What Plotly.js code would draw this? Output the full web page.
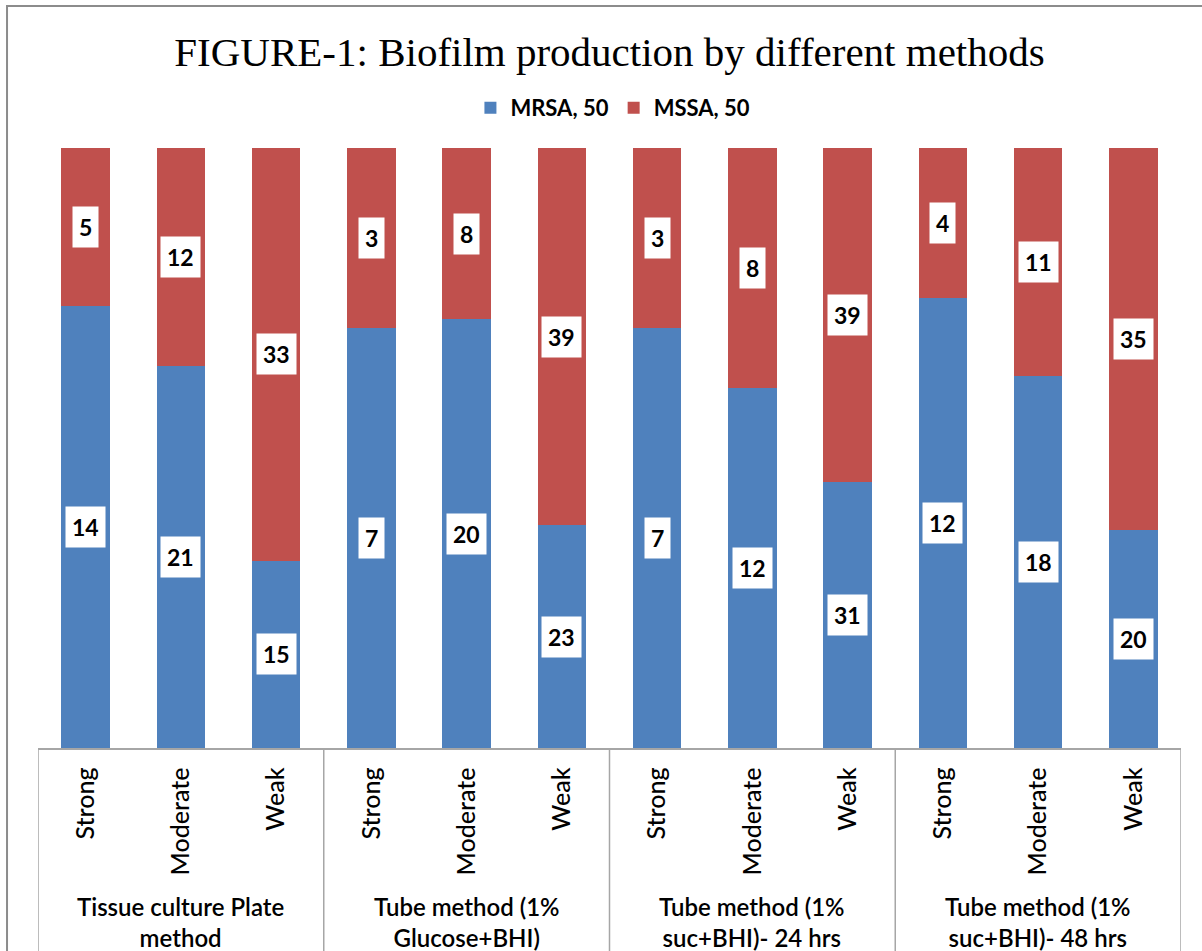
<!DOCTYPE html>
<html>
<head>
<meta charset="utf-8">
<script src="https://cdn.plot.ly/plotly-3.0.1.min.js"></script>
<style>html,body{margin:0;padding:0;background:#fff;}</style>
</head>
<body>
<div id="chart" style="width:1202px;height:951px;"></div>
<script>
// ---- data ----
const methods = [
  "Tissue culture Plate<br>method",
  "Tube method (1%<br>Glucose+BHI)",
  "Tube method (1%<br>suc+BHI)- 24 hrs",
  "Tube method (1%<br>suc+BHI)- 48 hrs"
];
const grades = ["Strong", "Moderate", "Weak"];
const mrsa = [14, 21, 15, 7, 20, 23, 7, 12, 31, 12, 18, 20];
const mssa = [5, 12, 33, 3, 8, 39, 3, 8, 39, 4, 11, 35];
const seriesNames = ["MRSA, 50", "MSSA, 50"];
const colors = ["#4F81BD", "#C0504D"];

// ---- derived ----
const xs = [], tickText = [];
methods.forEach((m, gi) => grades.forEach((g, si) => { xs.push(gi * grades.length + si); tickText.push(g); }));

const traces = [mrsa, mssa].map((vals, k) => ({
  type: "bar", x: xs, y: vals, name: seriesNames[k],
  marker: {color: colors[k]}, width: 0.51, hoverinfo: "x+y+name"
}));

const annotations = [];
xs.forEach((x, i) => {
  const tot = mrsa[i] + mssa[i];
  const p1 = mrsa[i] / tot * 100, p2 = mssa[i] / tot * 100;
  [[mrsa[i], p1 / 2], [mssa[i], p1 + p2 / 2]].forEach(([v, y]) => {
    annotations.push({
      x: x, y: y, xref: "x", yref: "y", text: String(v), showarrow: false,
      bgcolor: "#ffffff", borderpad: 6,
      font: {family: "Lato, sans-serif", size: 23, color: "#000", weight: "bold"}
    });
  });
});
methods.forEach((m, gi) => {
  annotations.push({
    x: gi * grades.length + (grades.length - 1) / 2, y: -0.29, xref: "x", yref: "paper",
    text: m, showarrow: false, yanchor: "middle",
    font: {family: "Lato, sans-serif", size: 24, color: "#000", weight: 600}
  });
});

const shapes = [];
for (let gi = 0; gi <= methods.length; gi++) {
  const xv = gi * grades.length - 0.5;
  shapes.push({type: "line", xref: "x", yref: "paper", x0: xv, x1: xv, y0: 0, y1: -0.4,
    line: {color: "#a6a6a6", width: 1.5}});
}
shapes.push({type: "rect", xref: "paper", yref: "paper",
  x0: -0.0271, x1: 1.03, y0: 1.2367, y1: -0.4,
  line: {color: "#8c8c8c", width: 2}});

const layout = {
  width: 1202, height: 951,
  margin: {l: 38, r: 21, t: 148, b: 203},
  paper_bgcolor: "#fff", plot_bgcolor: "#fff",
  barmode: "stack", barnorm: "percent", bargap: 0.49,
  title: {text: "FIGURE-1: Biofilm production by different methods",
    font: {family: "Liberation Serif, Times New Roman, serif", size: 41, color: "#000"},
    x: 0.5, xref: "paper", xanchor: "center", y: 0.946, yref: "container", yanchor: "middle"},
  legend: {orientation: "h", traceorder: "normal", x: 0.503, xanchor: "center", y: 1.0667, yanchor: "middle",
    font: {family: "Lato, sans-serif", size: 22, color: "#000", weight: "bold"},
    bgcolor: "rgba(0,0,0,0)"},
  xaxis: {type: "linear", range: [-0.5, xs.length - 0.5], tickvals: xs, ticktext: tickText,
    tickangle: -90, ticks: "", ticklabelstandoff: 8, showgrid: false, zeroline: false,
    showline: true, linecolor: "#a6a6a6", linewidth: 1.5,
    tickfont: {family: "Lato, sans-serif", size: 25, color: "#000", weight: 500}},
  yaxis: {range: [0, 100], visible: false, showgrid: false, zeroline: false},
  annotations: annotations, shapes: shapes,
  showlegend: true
};

Plotly.newPlot("chart", traces, layout, {displayModeBar: false, staticPlot: true});
</script>
</body>
</html>
